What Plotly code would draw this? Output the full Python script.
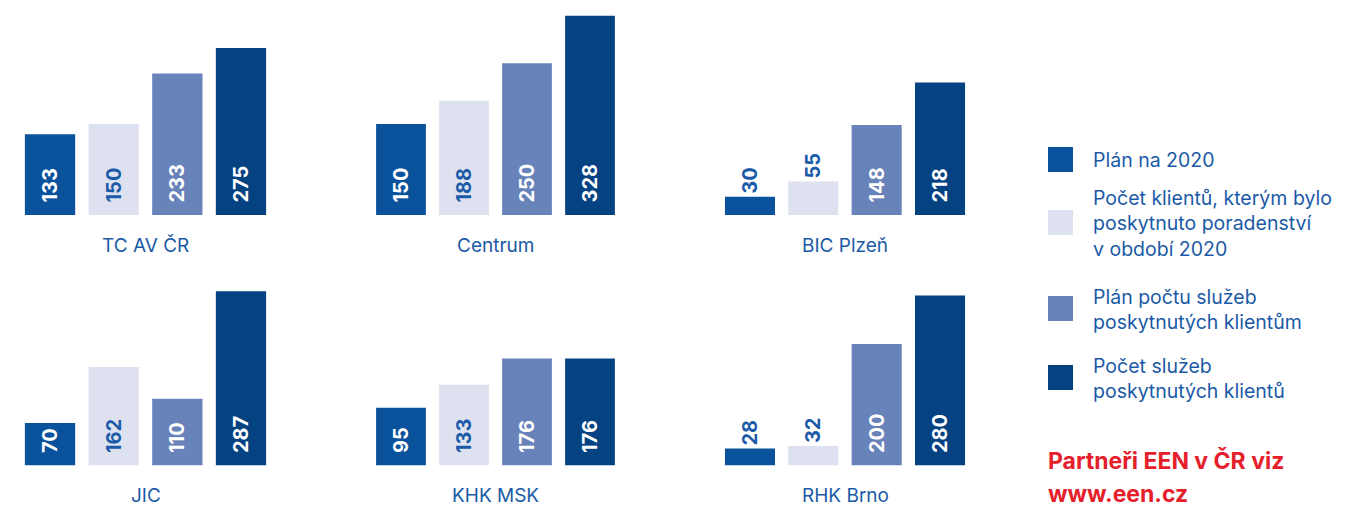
import plotly.graph_objects as go

# ---- data ----
regions = ["TC AV ČR", "Centrum", "BIC Plzeň", "JIC", "KHK MSK", "RHK Brno"]
series_names = [
    "Plán na 2020",
    "Počet klientů, kterým bylo<br>poskytnuto poradenství<br>v období 2020",
    "Plán počtu služeb<br>poskytnutých klientům",
    "Počet služeb<br>poskytnutých klientů",
]
plan_2020 = [133, 150, 30, 70, 95, 28]
klienti_poradenstvi = [150, 188, 55, 162, 133, 32]
plan_sluzeb = [233, 250, 148, 110, 176, 200]
pocet_sluzeb = [275, 328, 218, 287, 176, 280]

series_values = [plan_2020, klienti_poradenstvi, plan_sluzeb, pocet_sluzeb]
series_colors = ["#0b529c", "#dee2f0", "#6882ba", "#054282"]
inside_text_colors = ["#ffffff", "#1b5aa6", "#ffffff", "#ffffff"]
TEXT_BLUE = "#1b5aa6"
RED = "#e5202b"
FONT = "Inter, Roboto, sans-serif"

# page body has an 8px margin: figure sits at (8, 8) in the window
OFF = 8
W, H = 1364 - OFF, 508 - OFF


def px_x(x):
    return (x - OFF) / W


def px_y(y):
    return 1 - (y - OFF) / H


# panel geometry (window pixels)
col_px = [(18.2, 272.8), (369.5, 621.5), (718.3, 971.7)]
row_px = [(8.0, 215.0), (250.5, 465.5)]  # top, bottom
PX_PER_UNIT = 215.0 / 354.0

fig = go.Figure()
layout_axes = {}
annotations = []

for i, region in enumerate(regions):
    r, c = divmod(i, 3)
    n = i + 1
    xa = "x" if n == 1 else f"x{n}"
    ya = "y" if n == 1 else f"y{n}"
    vals = [s[i] for s in series_values]
    outside = [v < 60 for v in vals]
    texts = [str(v) if o else "\u00a0\u00a0" + str(v) for v, o in zip(vals, outside)]
    fig.add_trace(go.Bar(
        x=list(range(4)), y=vals,
        xaxis=xa, yaxis=ya,
        width=0.79,
        marker=dict(color=series_colors, line=dict(width=0)),
        text=texts,
        textposition=["outside" if o else "inside" for o in outside],
        insidetextanchor="start",
        textangle=-90,
        insidetextfont=dict(family=FONT, size=20, color=inside_text_colors, weight="bold"),
        outsidetextfont=dict(family=FONT, size=20, color=TEXT_BLUE, weight="bold"),
        cliponaxis=False,
        showlegend=False,
        hoverinfo="skip",
    ))
    x0, x1 = col_px[c]
    t, b = row_px[r]
    xkey = "xaxis" if n == 1 else f"xaxis{n}"
    ykey = "yaxis" if n == 1 else f"yaxis{n}"
    yrange_max = (b - t) / PX_PER_UNIT
    layout_axes[xkey] = dict(domain=[px_x(x0), px_x(x1)], range=[-0.5, 3.5], visible=False,
                             anchor=ya, fixedrange=True)
    layout_axes[ykey] = dict(domain=[px_y(b), px_y(t)], range=[0, yrange_max], visible=False,
                             anchor=xa, fixedrange=True)
    label_y = b + 30
    annotations.append(dict(
        text=region, xref=f"{xa} domain", x=0.5, yref="paper", y=px_y(label_y),
        xanchor="center", yanchor="middle", showarrow=False,
        font=dict(family=FONT, size=19, color=TEXT_BLUE),
    ))

# ---- custom legend ----
shapes = []
legend_centers = [159.5, 222.5, 308.5, 377.5]
for name, color, cy in zip(series_names, series_colors, legend_centers):
    shapes.append(dict(type="rect", xref="paper", yref="paper",
                       x0=px_x(1048), x1=px_x(1073), y0=px_y(cy + 12.5), y1=px_y(cy - 12.5),
                       fillcolor=color, line=dict(width=0)))
    annotations.append(dict(
        text=name, xref="paper", yref="paper", x=px_x(1091), y=px_y(cy + 1),
        xanchor="left", yanchor="middle", align="left", showarrow=False,
        font=dict(family=FONT, size=19.5, color=TEXT_BLUE),
    ))

annotations.append(dict(
    text="<b>Partneři EEN v ČR viz</b>", xref="paper", yref="paper", x=px_x(1046), y=px_y(461),
    xanchor="left", yanchor="middle", showarrow=False,
    font=dict(family=FONT, size=23, color=RED),
))
annotations.append(dict(
    text="<b>www.een.cz</b>", xref="paper", yref="paper", x=px_x(1046), y=px_y(494),
    xanchor="left", yanchor="middle", showarrow=False,
    font=dict(family=FONT, size=23, color=RED),
))

fig.update_layout(
    width=W, height=H,
    margin=dict(l=0, r=0, t=0, b=0),
    paper_bgcolor="white", plot_bgcolor="white",
    showlegend=False,
    annotations=annotations,
    shapes=shapes,
    **layout_axes,
)

fig.write_html("out.html")
